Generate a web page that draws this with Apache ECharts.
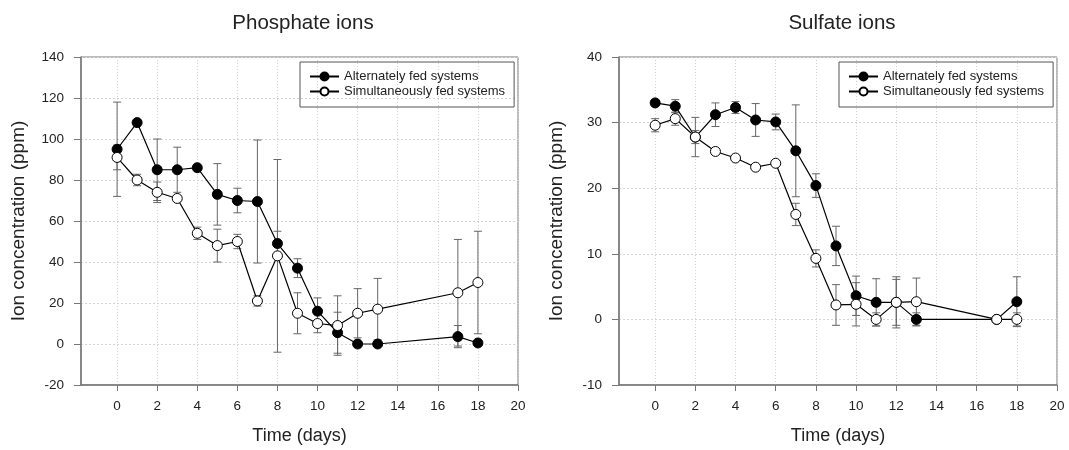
<!DOCTYPE html>
<html>
<head>
<meta charset="utf-8">
<title>Phosphate and sulfate ions</title>
<script src="https://cdn.jsdelivr.net/npm/echarts@6/dist/echarts.min.js"></script>
<style>
  html, body { margin: 0; padding: 0; background: #fff; }
  #chart { width: 1069px; height: 450px; }
</style>
</head>
<body>
<div id="chart"></div>
<script>
// days sampled (same for both panels)
const days = [0, 1, 2, 3, 4, 5, 6, 7, 8, 9, 10, 11, 12, 13, 17, 18]
const xTicks = [0, 2, 4, 6, 8, 10, 12, 14, 16, 18, 20]

// phosphate (ppm)
const phosAlt = [95, 108, 85, 85, 86, 73, 70, 69.5, 49, 37, 16, 5.5, 0, 0, 3.6, 0.5]
const phosAltErr = [23, 0, 15, 11, 1, 15, 6, 30, 6, 4.6, 6.5, 10, 0, 0, 5.4, 0]
const phosSim = [91, 80, 74, 71, 54, 48, 50, 21, 43, 15, 10, 9, 15, 17, 25, 30]
const phosSimErr = [6, 2.8, 5, 1, 3, 8, 3.5, 2.5, 47, 10, 4.5, 14.5, 12, 15, 26, 25]

// sulfate (ppm)
const sulAlt = [33, 32.5, 27.8, 31.2, 32.3, 30.4, 30.1, 25.7, 20.4, 11.2, 3.6, 2.6, 2.6, 0, 0, 2.7]
const sulAltErr = [0.5, 1, 3, 1.8, 0.9, 2.5, 1.2, 7, 1.8, 3, 3, 3.6, 3.9, 1, 0, 3.8]
const sulSim = [29.6, 30.6, 27.8, 25.6, 24.6, 23.2, 23.8, 16, 9.3, 2.2, 2.3, 0, 2.6, 2.7, 0, 0]
const sulSimErr = [1, 1, 1, 0.3, 0.3, 0.3, 0.3, 1.7, 1.3, 3.1, 3.3, 1, 3.5, 3.6, 0, 1]

const NAME_A = 'Alternately fed systems'
const NAME_S = 'Simultaneously fed systems'
const FONT = 'Liberation Sans, Arial, sans-serif'
const TXT = '#222'
const AXIS = '#777'

const chart = echarts.init(document.getElementById('chart'))

function errData(vals, errs) {
  return days.map((d, i) => [d, vals[i] - errs[i], vals[i] + errs[i]])
}

// vertical bar with caps, drawn through the axis scales
function errRender(params, api) {
  const x = api.value(0)
  const lo = api.value(1)
  const hi = api.value(2)
  if (hi - lo < 0.05) return null
  const top = api.coord([x, hi])
  const bot = api.coord([x, lo])
  const w = 4
  const style = { stroke: '#666', lineWidth: 1 }
  return {
    type: 'group',
    children: [
      { type: 'line', shape: { x1: top[0], y1: top[1], x2: bot[0], y2: bot[1] }, style },
      { type: 'line', shape: { x1: top[0] - w, y1: top[1], x2: top[0] + w, y2: top[1] }, style },
      { type: 'line', shape: { x1: bot[0] - w, y1: bot[1], x2: bot[0] + w, y2: bot[1] }, style }
    ]
  }
}

function xAxisOf(gridIndex) {
  return {
    type: 'value',
    gridIndex,
    min: -1.8,
    max: 20,
    name: 'Time (days)',
    nameLocation: 'middle',
    nameGap: 42,
    nameTextStyle: { color: TXT, fontSize: 18, fontFamily: FONT },
    axisLine: { show: true, onZero: false, lineStyle: { color: AXIS, width: 1.5 } },
    axisTick: { show: true, inside: false, length: 6, customValues: xTicks, lineStyle: { color: AXIS } },
    axisLabel: { customValues: xTicks, margin: 14, color: TXT, fontSize: 13.5, fontFamily: FONT },
    splitLine: { show: true, lineStyle: { color: '#d4d4d4', type: [1, 2] } }
  }
}

function yAxisOf(gridIndex, min, max, interval) {
  return {
    type: 'value',
    gridIndex,
    min,
    max,
    interval,
    name: 'Ion concentration (ppm)',
    nameLocation: 'middle',
    nameGap: 53,
    nameTextStyle: { color: TXT, fontSize: 19, fontFamily: FONT },
    axisLine: { show: true, onZero: false, lineStyle: { color: AXIS, width: 1.5 } },
    axisTick: { show: true, inside: false, length: 7, lineStyle: { color: AXIS } },
    axisLabel: { margin: 17, color: TXT, fontSize: 13.5, fontFamily: FONT },
    splitLine: { show: true, lineStyle: { color: '#d4d4d4', type: [2, 2] } }
  }
}

function lineSeries(name, idx, vals, hollow) {
  return {
    type: 'line',
    name,
    xAxisIndex: idx,
    yAxisIndex: idx,
    data: days.map((d, i) => [d, vals[i]]),
    symbol: 'circle',
    symbolSize: 10,
    z: hollow ? 4 : 3,
    lineStyle: { color: '#000', width: 1.2 },
    itemStyle: hollow
      ? { color: '#fff', borderColor: '#000', borderWidth: 1 }
      : { color: '#000', borderColor: '#000', borderWidth: 1 },
    emphasis: { disabled: true },
    animation: false
  }
}

function errSeries(idx, vals, errs) {
  return {
    type: 'custom',
    xAxisIndex: idx,
    yAxisIndex: idx,
    data: errData(vals, errs),
    encode: { x: 0, y: [1, 2] },
    renderItem: errRender,
    z: 2,
    silent: true,
    animation: false
  }
}

function legendOf(left) {
  return {
    left,
    top: 62,
    orient: 'vertical',
    data: [NAME_A, NAME_S],
    padding: [8, 9, 9, 9],
    itemGap: 2,
    itemWidth: 29,
    itemHeight: 10,
    borderColor: '#555',
    borderWidth: 1,
    selectedMode: false,
    textStyle: { color: TXT, fontSize: 13, fontFamily: FONT }
  }
}

chart.setOption({
  backgroundColor: '#fff',
  animation: false,
  title: [
    { text: 'Phosphate ions', left: 298, top: 8, textAlign: 'center', textStyle: { color: TXT, fontSize: 20.5, fontWeight: 'normal', fontFamily: FONT } },
    { text: 'Sulfate ions', left: 837, top: 8, textAlign: 'center', textStyle: { color: TXT, fontSize: 20.5, fontWeight: 'normal', fontFamily: FONT } }
  ],
  legend: [legendOf(300), legendOf(839)],
  grid: [
    { left: 81, right: 551, top: 57, bottom: 63, show: true, borderColor: AXIS, borderWidth: 1, backgroundColor: 'transparent' },
    { left: 619, right: 12, top: 57, bottom: 63, show: true, borderColor: AXIS, borderWidth: 1, backgroundColor: 'transparent' }
  ],
  xAxis: [xAxisOf(0), xAxisOf(1)],
  yAxis: [yAxisOf(0, -20, 140, 20), yAxisOf(1, -10, 40, 10)],
  series: [
    errSeries(0, phosAlt, phosAltErr),
    errSeries(0, phosSim, phosSimErr),
    lineSeries(NAME_A, 0, phosAlt, false),
    lineSeries(NAME_S, 0, phosSim, true),
    errSeries(1, sulAlt, sulAltErr),
    errSeries(1, sulSim, sulSimErr),
    lineSeries(NAME_A, 1, sulAlt, false),
    lineSeries(NAME_S, 1, sulSim, true)
  ]
})
</script>
</body>
</html>
